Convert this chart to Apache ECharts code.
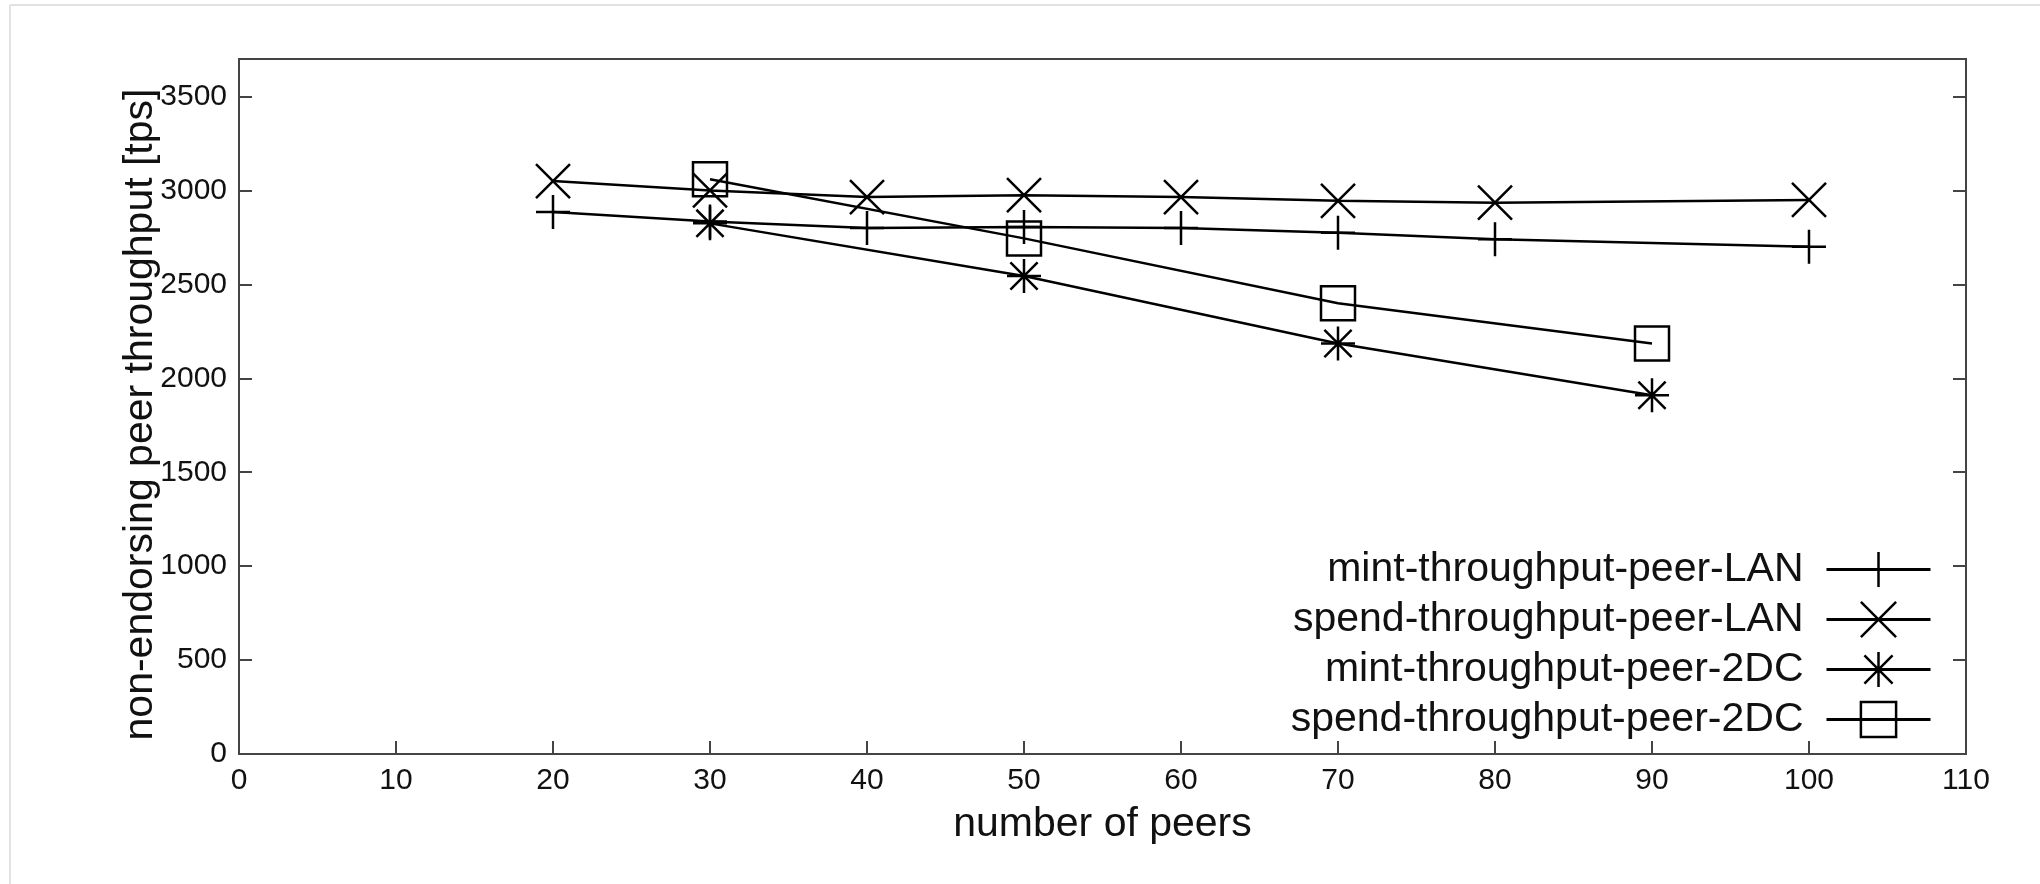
<!DOCTYPE html>
<html>
<head>
<meta charset="utf-8">
<script src="https://cdn.jsdelivr.net/npm/echarts@6/dist/echarts.min.js"></script>
<style>
  html, body { margin: 0; padding: 0; background: #ffffff; }
  #chart { width: 2040px; height: 884px; }
</style>
</head>
<body>
<div id="chart"></div>
<script>
// ---- data ----
const peersLAN = [20, 30, 40, 50, 60, 70, 80, 100];
const mintLAN  = [2885, 2835, 2800, 2805, 2800, 2775, 2740, 2700];
const spendLAN = [3050, 3000, 2965, 2975, 2965, 2945, 2935, 2950];
const peers2DC = [30, 50, 70, 90];
const mint2DC  = [2825, 2545, 2185, 1910];
const spend2DC = [3060, 2745, 2400, 2185];
const seriesNames = [
  'mint-throughput-peer-LAN',
  'spend-throughput-peer-LAN',
  'mint-throughput-peer-2DC',
  'spend-throughput-peer-2DC'
];
const xTitle = 'number of peers';
const yTitle = 'non-endorsing peer throughput [tps]';

// ---- marker shapes (gnuplot point types) ----
const SYM_PLUS   = 'path://M0,5L10,5M5,0L5,10';
const SYM_CROSS  = 'path://M0,0L10,10M10,0L0,10';
const SYM_STAR   = 'path://M0,5L10,5M5,0L5,10M1,1L9,9M9,1L1,9';
const SYM_SQUARE = 'path://M0,0L10,0L10,10L0,10Z';

const FONT = '"Liberation Sans", Arial, sans-serif';
const AXIS_COLOR = '#444';
const TEXT_COLOR = '#111';

function pairs(xs, ys) { return xs.map((x, i) => [x, ys[i]]); }

function makeSeries(name, xs, ys, symbol) {
  return {
    name: name,
    type: 'line',
    data: pairs(xs, ys),
    symbol: symbol,
    symbolSize: 34,
    showAllSymbol: true,
    lineStyle: { color: '#000', width: 2.5 },
    itemStyle: { color: 'rgba(0,0,0,0)', borderColor: '#000', borderWidth: 2.5 },
    emphasis: { disabled: true },
    animation: false
  };
}

const legendRowsTop = [549, 599, 649, 699];
const legends = seriesNames.map((n, i) => ({
  data: [n],
  orient: 'vertical',
  right: 108,
  top: legendRowsTop[i],
  padding: 0,
  align: 'right',
  itemWidth: 104,
  itemHeight: 44,
  selectedMode: false,
  textStyle: { fontFamily: FONT, fontSize: 41, color: TEXT_COLOR, padding: [0, 18, 0, 0] },
  itemStyle: { color: 'rgba(0,0,0,0)', borderColor: '#000', borderWidth: 2.5 },
  lineStyle: { color: '#000', width: 3 }
}));

const yAxisCommon = {
  type: 'value',
  min: 0,
  max: 3700,
  interval: 500,
  splitLine: { show: false },
  axisLine: { show: true, lineStyle: { color: AXIS_COLOR, width: 2 } },
  axisTick: { show: true, inside: true, length: 13, lineStyle: { color: AXIS_COLOR, width: 2 } }
};

const option = {
  backgroundColor: '#ffffff',
  animation: false,
  grid: {
    left: 239, right: 74, top: 59, bottom: 130,
    show: true, borderColor: AXIS_COLOR, borderWidth: 2, backgroundColor: 'transparent'
  },
  graphic: [
    { type: 'line', shape: { x1: 10, y1: 5, x2: 2040, y2: 5 }, style: { stroke: '#e2e2e2', lineWidth: 2 }, silent: true },
    { type: 'line', shape: { x1: 10, y1: 5, x2: 10, y2: 884 }, style: { stroke: '#e2e2e2', lineWidth: 2 }, silent: true }
  ],
  legend: legends,
  xAxis: {
    type: 'value',
    min: 0,
    max: 110,
    interval: 10,
    name: xTitle,
    nameLocation: 'middle',
    nameGap: 50,
    nameMoveOverlap: false,
    nameTextStyle: { fontFamily: FONT, fontSize: 41, color: TEXT_COLOR },
    splitLine: { show: false },
    axisLine: { show: true, onZero: false, lineStyle: { color: AXIS_COLOR, width: 2 } },
    axisTick: { show: true, inside: true, length: 13, lineStyle: { color: AXIS_COLOR, width: 2 } },
    axisLabel: { margin: 12, fontFamily: FONT, fontSize: 30, color: TEXT_COLOR }
  },
  yAxis: [
    Object.assign({}, yAxisCommon, {
      position: 'left',
      name: yTitle,
      nameLocation: 'middle',
      nameGap: 78,
      nameMoveOverlap: false,
      nameRotate: 90,
      nameTextStyle: { fontFamily: FONT, fontSize: 41, color: TEXT_COLOR, padding: [0, 16, 0, 0] },
      axisLabel: {
        margin: 12, fontFamily: FONT, fontSize: 30, color: TEXT_COLOR, showMaxLabel: false,
        formatter: function (v) { return String(v); }
      }
    }),
    Object.assign({}, yAxisCommon, {
      position: 'right',
      axisLabel: { show: false }
    })
  ],
  series: [
    makeSeries(seriesNames[0], peersLAN, mintLAN, SYM_PLUS),
    makeSeries(seriesNames[1], peersLAN, spendLAN, SYM_CROSS),
    makeSeries(seriesNames[2], peers2DC, mint2DC, SYM_STAR),
    makeSeries(seriesNames[3], peers2DC, spend2DC, SYM_SQUARE)
  ]
};

const chart = echarts.init(document.getElementById('chart'), null, { renderer: 'canvas' });
chart.setOption(option);
</script>
</body>
</html>
